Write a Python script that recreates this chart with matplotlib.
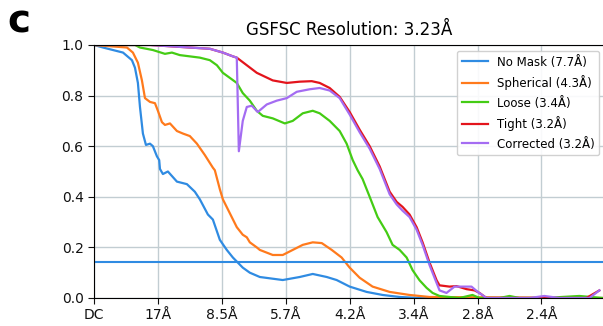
import matplotlib
matplotlib.use("Agg")
import matplotlib.pyplot as plt
import numpy as np

# spatial frequency (1/A) and FSC values
nomask_f = [0, 0.0083, 0.0267, 0.0349, 0.0377, 0.0404, 0.0423, 0.0450, 0.0478, 0.0515, 0.0542,
            0.0579, 0.0600, 0.0607, 0.0634, 0.0680, 0.0763, 0.0855, 0.0928, 0.0974, 0.1048, 0.1094,
            0.1158, 0.1222, 0.1278, 0.1369, 0.1434, 0.1526, 0.1737, 0.1893, 0.2013, 0.2142, 0.2233,
            0.2353, 0.2509, 0.2656, 0.2813, 0.2996, 0.4678]
nomask_v = [1.0, 0.99, 0.97, 0.94, 0.91, 0.85, 0.755, 0.65, 0.605, 0.61, 0.60,
            0.56, 0.545, 0.51, 0.49, 0.50, 0.46, 0.45, 0.42, 0.39, 0.33, 0.31,
            0.23, 0.19, 0.16, 0.12, 0.10, 0.083, 0.071, 0.083, 0.095, 0.083, 0.071,
            0.045, 0.024, 0.012, 0.004, 0.0, 0.0]

sph_f = [0, 0.0303, 0.0358, 0.0404, 0.0441, 0.0469, 0.0515, 0.0561, 0.0588, 0.0625, 0.0653,
         0.0699, 0.0763, 0.0818, 0.0882, 0.0947, 0.1020, 0.1094, 0.1112, 0.1158, 0.1186, 0.1250,
         0.1314, 0.1369, 0.1406, 0.1434, 0.1498, 0.1526, 0.1645, 0.1737, 0.1829, 0.1921, 0.2013,
         0.2096, 0.2188, 0.2279, 0.2353, 0.2445, 0.2564, 0.2721, 0.2904, 0.3088, 0.4678]
sph_v = [1.0, 0.99, 0.97, 0.93, 0.86, 0.79, 0.775, 0.77, 0.74, 0.695, 0.684,
         0.69, 0.66, 0.65, 0.64, 0.61, 0.565, 0.515, 0.505, 0.43, 0.39, 0.335,
         0.28, 0.25, 0.24, 0.22, 0.20, 0.19, 0.17, 0.17, 0.19, 0.21, 0.22,
         0.217, 0.19, 0.16, 0.12, 0.08, 0.045, 0.024, 0.012, 0.004, 0.0]

loose_f = [0, 0.0377, 0.0423, 0.0542, 0.0653, 0.0717, 0.0790, 0.0882, 0.0974, 0.1066, 0.1131,
           0.1186, 0.1250, 0.1314, 0.1369, 0.1434, 0.1498, 0.1553, 0.1645, 0.1756, 0.1829,
           0.1921, 0.2013, 0.2077, 0.2169, 0.2261, 0.2325, 0.2381, 0.2426, 0.2472, 0.2537,
           0.2610, 0.2693, 0.2748, 0.2813, 0.2877, 0.2932, 0.2996, 0.3061, 0.3116, 0.3180,
           0.3364, 0.3483, 0.3548, 0.3732, 0.3824, 0.3915, 0.4145, 0.4467, 0.4678]
loose_v = [1.0, 1.0, 0.99, 0.98, 0.965, 0.97, 0.96, 0.955, 0.95, 0.94, 0.92,
           0.89, 0.87, 0.85, 0.81, 0.78, 0.74, 0.72, 0.71, 0.69, 0.70,
           0.73, 0.74, 0.73, 0.70, 0.66, 0.61, 0.545, 0.505, 0.47, 0.40,
           0.32, 0.26, 0.21, 0.19, 0.16, 0.11, 0.07, 0.04, 0.02, 0.008,
           0.0, 0.012, 0.0, 0.0, 0.008, 0.0, 0.0, 0.008, 0.0]

tight_f = [0, 0.0515, 0.0882, 0.1066, 0.1186, 0.1278, 0.1314, 0.1406, 0.1498, 0.1645, 0.1774,
           0.1893, 0.2004, 0.2077, 0.2169, 0.2261, 0.2353, 0.2445, 0.2537, 0.2629, 0.2721,
           0.2785, 0.2840, 0.2904, 0.2969, 0.3024, 0.3088, 0.3153, 0.3180, 0.3272, 0.3336,
           0.3428, 0.3502, 0.3548, 0.3612, 0.4283, 0.4531, 0.4651]
tight_v = [1.0, 1.0, 0.99, 0.985, 0.97, 0.955, 0.95, 0.92, 0.89, 0.86, 0.85,
           0.855, 0.857, 0.85, 0.83, 0.795, 0.735, 0.665, 0.60, 0.52, 0.42,
           0.38, 0.36, 0.33, 0.28, 0.22, 0.14, 0.07, 0.05, 0.045, 0.047,
           0.035, 0.03, 0.02, 0.0, 0.0, 0.0, 0.03]

corr_f = [0, 0.0515, 0.0882, 0.1066, 0.1186, 0.1278, 0.1314, 0.1333, 0.1369, 0.1406, 0.1452,
          0.1507, 0.1590, 0.1682, 0.1774, 0.1866, 0.1985, 0.2077, 0.2169, 0.2261, 0.2353,
          0.2445, 0.2537, 0.2629, 0.2721, 0.2785, 0.2840, 0.2904, 0.2969, 0.3024, 0.3088,
          0.3180, 0.3244, 0.3318, 0.3392, 0.3474, 0.3529, 0.3612, 0.4007, 0.4145, 0.4283,
          0.4559, 0.4651]
corr_v = [1.0, 1.0, 0.99, 0.985, 0.97, 0.955, 0.95, 0.58, 0.70, 0.755, 0.76,
          0.735, 0.765, 0.78, 0.79, 0.815, 0.825, 0.83, 0.82, 0.79, 0.725,
          0.655, 0.59, 0.51, 0.41, 0.37, 0.345, 0.32, 0.27, 0.21, 0.13,
          0.03, 0.02, 0.045, 0.045, 0.045, 0.025, 0.0, 0.0, 0.008, 0.0,
          0.0, 0.03]

labels = ["No Mask (7.7Å)", "Spherical (4.3Å)", "Loose (3.4Å)", "Tight (3.2Å)", "Corrected (3.2Å)"]
colors = ["#2f8be2", "#ff7a1c", "#44cc14", "#e3141c", "#a46cf2"]
threshold = 0.143
tick_res = [17, 8.5, 5.7, 4.2, 3.4, 2.8, 2.4]

fig = plt.figure(figsize=(6.03, 3.26), dpi=100)
ax = fig.add_axes([0.1559, 0.0859, 0.848, 0.7761])

ax.grid(color="#c2cdd2", linewidth=1.0)
ax.set_axisbelow(True)

curves = [(nomask_f, nomask_v), (sph_f, sph_v), (loose_f, loose_v),
          (tight_f, tight_v), (corr_f, corr_v)]
for (f, v), lab, c in zip(curves, labels, colors):
    ax.plot(f, v, color=c, lw=1.6, label=lab)

ax.axhline(threshold, color=colors[0], lw=1.5)

ax.set_xlim(0, 0.4706)
ax.set_ylim(0, 1.0)
ax.set_yticks([0, 0.2, 0.4, 0.6, 0.8, 1.0])
ax.set_xticks([0] + [k / 17 for k in range(1, 8)])
ax.set_xticklabels(["DC"] + ["%gÅ" % r for r in tick_res])
ax.tick_params(labelsize=10, length=4, colors="#111111")
ax.spines["right"].set_visible(False)

ax.set_title("GSFSC Resolution: 3.23Å", fontsize=12, pad=7)
ax.legend(loc="upper right", fontsize=8.5, framealpha=0.9, labelspacing=0.55,
          handlelength=2.2)

fig.text(0.012, 0.9, "c", fontsize=28, fontweight="bold")

fig.savefig("out.png", dpi=100)
